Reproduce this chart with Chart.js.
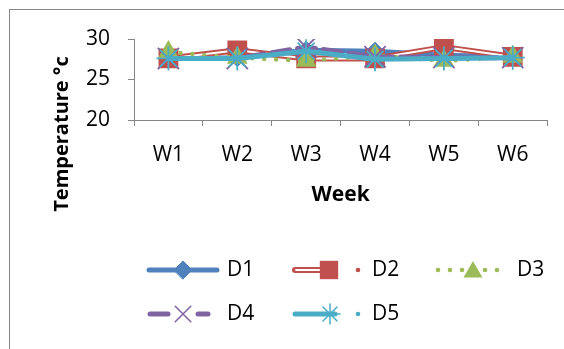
<!DOCTYPE html>
<html>
<head>
<meta charset="utf-8">
<script src="https://cdn.jsdelivr.net/npm/chart.js@4/dist/chart.umd.min.js"></script>
<style>
html,body{margin:0;padding:0;background:#fff;}
#wrap{position:relative;width:564px;height:349px;}
</style>
</head>
<body>
<div id="wrap"><canvas id="c" width="564" height="349"></canvas></div>
<script>
const weeks = ['W1','W2','W3','W4','W5','W6'];
const d1 = [27.6, 27.7, 28.6, 28.5, 28.0, 27.8];
const d2 = [27.6, 28.6, 27.6, 27.6, 29.0, 27.8];
const d3 = [28.4, 27.7, 27.3, 28.0, 27.3, 27.8];
const d4 = [27.6, 27.6, 29.0, 27.8, 27.7, 27.7];
const d5 = [27.6, 27.6, 28.5, 27.5, 27.6, 27.7];
const yTicks = [20, 25, 30];
const seriesNames = ['D1','D2','D3','D4','D5'];
const yTitle = 'Temperature °c';
const xTitle = 'Week';

const FONT = '"Open Sans", "DejaVu Sans", sans-serif';
const C = {blue:'#4F81BD', red:'#C0504D', green:'#9BBB59', purple:'#8064A2', cyan:'#4BACC6', axis:'#868686'};

const bgPlugin = {
  id:'bg',
  beforeDraw(chart){
    const ctx = chart.ctx;
    ctx.save();
    ctx.fillStyle = '#fff';
    ctx.fillRect(0,0,chart.width,chart.height);
    ctx.strokeStyle = C.axis;
    ctx.lineWidth = 1;
    ctx.strokeRect(9.5, 9.5, 700, 500);
    ctx.restore();
  }
};

const yTitlePlugin = {
  id:'yTitle',
  afterDraw(chart){
    const ctx = chart.ctx;
    ctx.save();
    ctx.translate(62, 134);
    ctx.rotate(-Math.PI/2);
    ctx.fillStyle = '#000';
    ctx.font = 'bold 20px ' + FONT;
    ctx.textAlign = 'center';
    ctx.textBaseline = 'middle';
    ctx.fillText(yTitle, 0, 0);
    ctx.restore();
  }
};

const legendPlugin = {
  id:'customLegend',
  afterDraw(chart){
    const ctx = chart.ctx;
    const dp = Chart.helpers.drawPoint;
    ctx.save();
    ctx.lineCap = 'round';
    function line(x1,x2,y,color,w,dash){
      ctx.beginPath();
      ctx.setLineDash(dash||[]);
      ctx.strokeStyle = color; ctx.lineWidth = w;
      ctx.moveTo(x1,y); ctx.lineTo(x2,y); ctx.stroke();
      ctx.setLineDash([]);
    }
    function pt(style, r, x, y, fill, stroke, bw){
      ctx.fillStyle = fill; ctx.strokeStyle = stroke;
      ctx.lineWidth = bw;
      dp(ctx, {pointStyle:style, radius:r, rotation:0, borderWidth:bw}, x, y);
    }
    function dot(x,y,color,r){
      ctx.beginPath(); ctx.fillStyle=color; ctx.arc(x,y,r,0,Math.PI*2); ctx.fill();
    }
    function text(t,x,y){
      ctx.fillStyle='#000'; ctx.font = '21px ' + FONT;
      ctx.textBaseline='middle'; ctx.textAlign='left';
      ctx.fillText(t,x,y);
    }
    const y1 = 270, y2 = 314;
    // D1
    line(149, 217, y1, C.blue, 5);
    pt('rectRot', 9, 183, y1, C.blue, C.blue, 1);
    text(seriesNames[0], 227, y1);
    // D2
    line(295, 330, y1, C.red, 6);
    line(296, 330, y1, '#fff', 2);
    pt('rect', 13, 329, y1, C.red, C.red, 0);
    dot(358, y1, C.red, 2.3);
    text(seriesNames[1], 372, y1);
    // D3
    [438,450,462,485,497].forEach(x=>dot(x,y1,C.green,2.3));
    pt('triangle', 11, 473, y1+2, C.green, C.green, 0);
    text(seriesNames[2], 517, y1);
    // D4
    line(150, 168, y2, C.purple, 5);
    line(198, 208, y2, C.purple, 5);
    pt('crossRot', 11, 183, y2, C.purple, C.purple, 1.5);
    text(seriesNames[3], 227, y2);
    // D5
    line(295, 335, y2, C.cyan, 5);
    pt('star', 10, 330, y2, C.cyan, C.cyan, 1.5);
    dot(358, y2, C.cyan, 2.3);
    text(seriesNames[4], 372, y2);
    ctx.restore();
  }
};

const common = {fill:false, tension:0, borderCapStyle:'round', borderJoinStyle:'round'};

const chart = new Chart(document.getElementById('c'), {
  type:'line',
  data:{
    labels: weeks,
    datasets:[
      Object.assign({}, common, {label:'D1', data:d1, borderColor:C.blue, backgroundColor:C.blue, borderWidth:5,
        pointStyle:'rectRot', pointRadius:9, pointBorderWidth:1, pointBorderColor:C.blue, pointBackgroundColor:C.blue, order:5}),
      Object.assign({}, common, {label:'D2', data:d2, borderColor:C.red, borderWidth:6, pointRadius:0, order:4.6}),
      Object.assign({}, common, {label:'D2 inner', data:d2, borderColor:'#fff', borderWidth:2, pointRadius:0, order:4.5}),
      Object.assign({}, common, {label:'D2 markers', data:d2, showLine:false, pointStyle:'rect', pointRadius:14,
        pointBorderWidth:0, pointBackgroundColor:C.red, pointBorderColor:C.red, order:4.4}),
      Object.assign({}, common, {label:'D3', data:d3, borderColor:C.green, borderWidth:4.5, borderDash:[0,12],
        pointStyle:'triangle', pointRadius:12, pointBorderWidth:0, pointBackgroundColor:C.green, pointBorderColor:C.green, order:3}),
      Object.assign({}, common, {label:'D4', data:d4, borderColor:C.purple, borderWidth:5, borderDash:[18,8],
        pointStyle:'crossRot', pointRadius:15, pointBorderWidth:1.8, pointBackgroundColor:C.purple, pointBorderColor:C.purple, order:2}),
      Object.assign({}, common, {label:'D5', data:d5, borderColor:C.cyan, borderWidth:5,
        pointStyle:'star', pointRadius:12, pointBorderWidth:1.8, pointBackgroundColor:C.cyan, pointBorderColor:C.cyan, order:1})
    ]
  },
  options:{
    responsive:false,
    animation:false,
    events:[],
    layout:{padding:{left:0, right:16, top:39, bottom:141.4}},
    plugins:{legend:{display:false}, tooltip:{enabled:false}},
    scales:{
      x:{
        type:'category',
        offset:true,
        grid:{display:true, drawOnChartArea:false, drawTicks:true, tickLength:6, color:C.axis, offset:true},
        border:{display:true, color:C.axis, width:1},
        ticks:{color:'#000', font:{family:FONT, size:21}, padding:16, maxRotation:0, autoSkip:false},
        title:{display:true, text:xTitle, color:'#000', font:{family:FONT, size:21, weight:'bold'}, padding:{top:0,bottom:0}},
        afterFit(s){ s.height = 87.6; }
      },
      y:{
        min:20, max:30,
        afterBuildTicks(s){ s.ticks = yTicks.map(v=>({value:v})); },
        grid:{display:true, drawOnChartArea:false, drawTicks:true, tickLength:6, color:C.axis},
        border:{display:true, color:C.axis, width:1},
        ticks:{color:'#000', font:{family:FONT, size:21}, padding:18},
        afterFit(s){ s.width = 134; }
      }
    }
  },
  plugins:[bgPlugin, yTitlePlugin, legendPlugin]
});
</script>
</body>
</html>
